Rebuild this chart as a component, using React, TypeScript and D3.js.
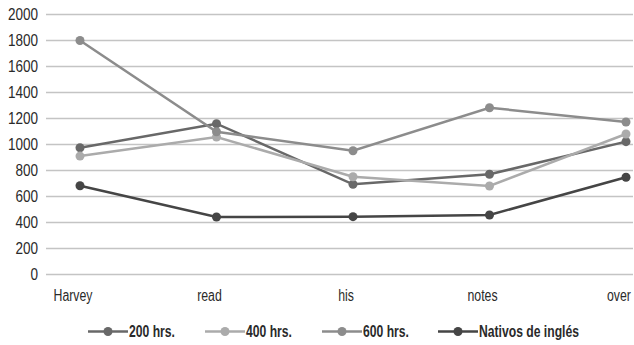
import React, { useEffect, useRef } from "react";
import * as d3 from "d3";

const categories = ["Harvey", "read", "his", "notes", "over"];
const seriesNames = ["200 hrs.", "400 hrs.", "600 hrs.", "Nativos de inglés"];
const hrs200 = [975, 1160, 694, 771, 1022];
const hrs400 = [911, 1058, 752, 681, 1081];
const hrs600 = [1800, 1098, 952, 1283, 1173];
const nativos = [683, 442, 445, 458, 748];
const yTicks = [0, 200, 400, 600, 800, 1000, 1200, 1400, 1600, 1800, 2000];
const colors = ["#686868", "#ababab", "#8c8c8c", "#454545"];

const W = 634, H = 345;
const FONT = "'Liberation Sans', Arial, sans-serif";

export default function App() {
  const ref = useRef<SVGSVGElement>(null);

  useEffect(() => {
    const svg = d3.select(ref.current);
    svg.selectAll("*").remove();

    const x = d3.scalePoint().domain(categories).range([80, 626]);
    const y = d3.scaleLinear().domain([0, 2000]).range([274.5, 14.5]);

    // gridlines
    svg.append("g").selectAll("line").data(yTicks).join("line")
      .attr("x1", 46).attr("x2", 633)
      .attr("y1", d => y(d)).attr("y2", d => y(d))
      .attr("stroke", "#c4c4c4").attr("stroke-width", 1.3);

    // y labels - squeezed horizontally to get the condensed look
    svg.append("g").selectAll("text").data(yTicks).join("text")
      .attr("transform", d => `translate(38,${y(d)}) scale(0.82,1)`)
      .attr("dy", "0.36em")
      .attr("text-anchor", "end")
      .style("font-family", FONT).style("font-size", "16.5px").attr("fill", "#2a2a2a")
      .text(d => d);

    // x labels (sit a little left of the points in the original)
    svg.append("g").selectAll("text").data(categories).join("text")
      .attr("transform", d => `translate(${(x(d) as number) - 7},301) scale(0.77,1)`)
      .attr("text-anchor", "middle")
      .style("font-family", FONT).style("font-size", "16px").attr("fill", "#2a2a2a")
      .text(d => d);

    const all = [hrs200, hrs400, hrs600, nativos];
    const line = d3.line<number>()
      .x((d, i) => x(categories[i]) as number)
      .y(d => y(d));

    all.forEach((vals, si) => {
      const g = svg.append("g");
      g.append("path").attr("d", line(vals))
        .attr("fill", "none").attr("stroke", colors[si]).attr("stroke-width", 2.5);
      g.selectAll("circle").data(vals).join("circle")
        .attr("cx", (d, i) => x(categories[i]) as number)
        .attr("cy", d => y(d)).attr("r", 4.5).attr("fill", colors[si]);
    });

    // legend
    const legendX = [88, 205, 322, 438];
    const ly = 331.5;
    seriesNames.forEach((name, i) => {
      const g = svg.append("g").attr("transform", `translate(${legendX[i]},${ly})`);
      g.append("line").attr("x1", 0).attr("x2", 40).attr("y1", 0).attr("y2", 0)
        .attr("stroke", colors[i]).attr("stroke-width", 2.5);
      g.append("circle").attr("cx", 20).attr("cy", 0).attr("r", 4.5).attr("fill", colors[i]);
      g.append("text").attr("transform", "translate(41,0) scale(0.76,1)").attr("dy", "0.36em")
        .style("font-family", FONT).style("font-size", "16px").style("font-weight", "bold")
        .attr("fill", "#2a2a2a")
        .text(name);
    });
  }, []);

  return (
    <svg ref={ref} width={W} height={H}
      style={{ position: "absolute", left: 0, top: 0, background: "#fff" }} />
  );
}
